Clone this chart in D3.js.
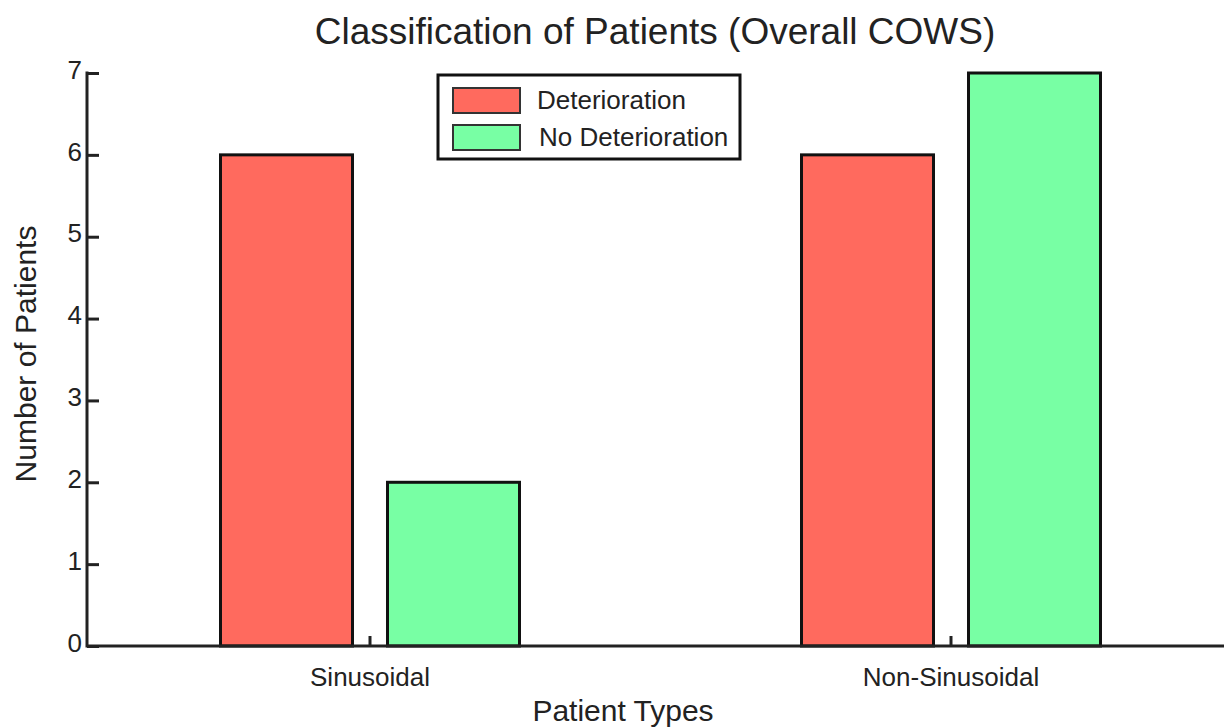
<!DOCTYPE html>
<meta charset="utf-8">
<style>
  body { margin: 0; background: #fff; }
  text { font-family: "Liberation Sans", Arial, sans-serif; fill: #222; }
</style>
<body>
<script src="https://cdn.jsdelivr.net/npm/d3@7"></script>
<script>
    var categories = ["Sinusoidal", "Non-Sinusoidal"];
    var seriesNames = ["Deterioration", "No Deterioration"];
    var deterioration = [6, 6];
    var noDeterioration = [2, 7];
    var yTicks = [0, 1, 2, 3, 4, 5, 6, 7];
    var colors = ["#ff6a5e", "#78ffa4"];

    var width = 1224, height = 728;
    var mLeft = 87, mTop = 73, mBottom = 646;

    var svg = d3.select("body").append("svg")
            .attr("width", width)
            .attr("height", height);

    var y = d3.scaleLinear().domain([0, 7]).range([mBottom, mTop]);

    var x = d3.scaleBand().domain(categories).range([79.5, 1241.5]).padding(0);
    // two bars per group, 132px wide with a 35px gap
    var inner = d3.scaleBand().domain(seriesNames).range([-149.5, 149.5])
            .paddingInner(35 / 167).paddingOuter(0);

    var rows = categories.map(function(c, i) {
        return {cat: c, vals: [deterioration[i], noDeterioration[i]]};
    });

    // bars
    var g = svg.selectAll(".grp").data(rows).enter().append("g")
            .attr("transform", function(d) { return "translate(" + (x(d.cat) + x.bandwidth() / 2) + ",0)"; });

    g.selectAll("rect").data(function(d) {
        return d.vals.map(function(v, j) { return {name: seriesNames[j], v: v, j: j}; });
    }).enter().append("rect")
            .attr("x", function(d) { return inner(d.name); })
            .attr("width", inner.bandwidth())
            .attr("y", function(d) { return y(d.v); })
            .attr("height", function(d) { return y(0) - y(d.v); })
            .attr("fill", function(d) { return colors[d.j]; })
            .attr("stroke", "#111")
            .attr("stroke-width", 3);

    // y axis
    var yAxis = svg.append("g").attr("transform", "translate(" + mLeft + ",0)")
            .call(d3.axisRight(y).tickValues(yTicks).tickSize(12).tickFormat(d3.format("d")));
    yAxis.select(".domain").remove();
    yAxis.selectAll(".tick line").attr("stroke", "#222").attr("stroke-width", 3);
    yAxis.selectAll(".tick text").attr("x", -5).attr("dy", "0.2em").attr("text-anchor", "end")
            .style("font-size", "26px");
    svg.append("line").attr("x1", mLeft).attr("x2", mLeft).attr("y1", mTop - 1.5).attr("y2", mBottom + 1.5)
            .attr("stroke", "#222").attr("stroke-width", 3);

    // x axis
    var xAxis = svg.append("g").attr("transform", "translate(0," + mBottom + ")")
            .call(d3.axisTop(x).tickSize(10));
    xAxis.select(".domain").remove();
    xAxis.selectAll(".tick line").attr("stroke", "#222").attr("stroke-width", 3);
    xAxis.selectAll(".tick text").attr("y", 40).attr("dy", 0).style("font-size", "26px");
    svg.append("line").attr("x1", mLeft).attr("x2", width).attr("y1", mBottom).attr("y2", mBottom)
            .attr("stroke", "#222").attr("stroke-width", 3);

    // titles
    svg.append("text").attr("x", 655).attr("y", 44).attr("text-anchor", "middle")
            .style("font-size", "37px").text("Classification of Patients (Overall COWS)");
    svg.append("text").attr("x", 623).attr("y", 721).attr("text-anchor", "middle")
            .style("font-size", "30px").text("Patient Types");
    svg.append("text").attr("transform", "translate(36,354) rotate(-90)").attr("text-anchor", "middle")
            .style("font-size", "30px").text("Number of Patients");

    // legend
    var lg = svg.append("g").attr("transform", "translate(438,75)");
    lg.append("rect").attr("width", 302).attr("height", 84)
            .attr("fill", "#fff").attr("stroke", "#111").attr("stroke-width", 3);
    seriesNames.forEach(function(n, i) {
        lg.append("rect").attr("x", 15).attr("y", 13 + i * 37).attr("width", 67).attr("height", 25)
                .attr("fill", colors[i]).attr("stroke", "#333").attr("stroke-width", 2);
        lg.append("text").attr("x", 99 + i * 2).attr("y", 34 + i * 37)
                .style("font-size", "26px").text(n);
    });
</script>
</body>
